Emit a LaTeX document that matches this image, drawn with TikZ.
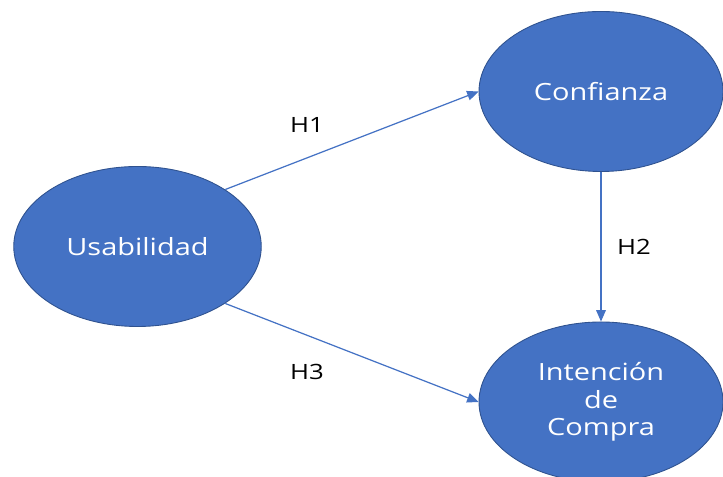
\documentclass[tikz,border=0pt]{standalone}
\usepackage{fontspec}
\usepackage{xcolor}
\usepackage{tikz}
\usetikzlibrary{arrows.meta,shapes.geometric}
\newfontfamily\diagfont{Open Sans}[FakeStretch=1.22]
\definecolor{officeblue}{HTML}{4472C4}
\definecolor{officeedge}{HTML}{2F528F}

\begin{document}
\begin{tikzpicture}
			\useasboundingbox (0, 0) rectangle (14.46, 9.54);
			\tikzset{
				construct/.style={ellipse, draw=officeedge, line width=0.5pt, fill=officeblue, text=white,
					minimum width=4.95cm, minimum height=3.2cm, inner sep=0pt, align=center,
					font=\diagfont\fontsize{13.5}{15.6}\selectfont},
				hyp/.style={draw=officeblue, line width=0.7pt, -{Triangle[length=6.5pt, width=5.5pt]}},
				hyplabel/.style={font=\diagfont\fontsize{12}{14}\selectfont}
			}
			\node[construct] (usa) at (2.75, 4.61) {Usabilidad};
			\node[construct, minimum width=4.88cm] (conf) at (12.02, 7.71) {Confianza};
			\node[construct, minimum width=4.88cm] (int) at (12.02, 1.5) {Intención\\de\\Compra};
			\draw[hyp] (usa.33) -- (conf.west);
			\draw[hyp] (conf.south) -- (int.north);
			\draw[hyp] (usa.-33) -- (int.west);
			\node[hyplabel] (h1) at (6.14, 7.04) {H1};
			\node[hyplabel] (h2) at (12.68, 4.6) {H2};
			\node[hyplabel] (h3) at (6.14, 2.1) {H3};
		\end{tikzpicture}
\end{document}
